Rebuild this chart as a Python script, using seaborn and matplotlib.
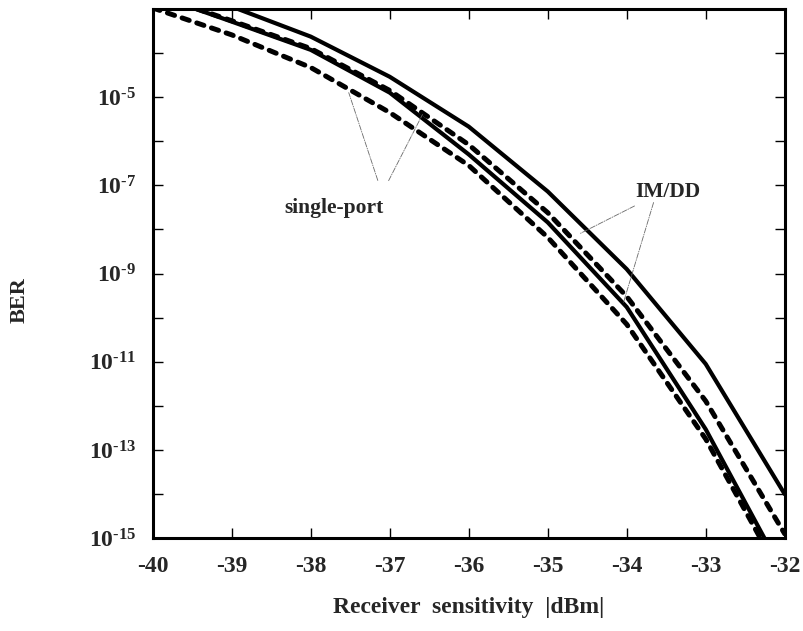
import numpy as np
import pandas as pd
import matplotlib
matplotlib.use("Agg")
import matplotlib.pyplot as plt
import seaborn as sns

# receiver sensitivity [dBm]
power_dbm = [-40, -39, -38, -37, -36, -35, -34, -33, -32]

# log10(BER)
imdd_upper = [-2.60, -2.95, -3.63, -4.54, -5.67, -7.14, -8.90, -11.05, -14.00]
imdd_lower = [-2.66, -3.29, -3.93, -4.90, -6.30, -7.84, -9.76, -12.53, -15.85]
sport_upper = [-2.66, -3.27, -3.90, -4.85, -6.08, -7.62, -9.52, -11.89, -14.90]
sport_lower = [-2.98, -3.59, -4.33, -5.35, -6.55, -8.18, -10.15, -12.75, -16.00]

ytick_exp = [-4, -5, -6, -7, -8, -9, -10, -11, -12, -13, -14, -15]
xticks = [-40, -39, -38, -37, -36, -35, -34, -33, -32]

sns.set_style("ticks")
plt.rcParams["font.family"] = ["Liberation Serif", "DejaVu Serif"]
plt.rcParams["font.weight"] = "bold"
plt.rcParams["mathtext.fontset"] = "custom"
plt.rcParams["mathtext.rm"] = "Liberation Serif:bold"
plt.rcParams["mathtext.it"] = "Liberation Serif:bold"
plt.rcParams["mathtext.bf"] = "Liberation Serif:bold"
plt.rcParams["axes.unicode_minus"] = False

fig = plt.figure(figsize=(8.04, 6.31), dpi=100)
ax = fig.add_axes([0.19, 0.147, 0.786, 0.839])

curves = [
    (imdd_upper, "-"),
    (imdd_lower, "-"),
    (sport_upper, (0, (1.5, 1.6))),
    (sport_lower, (0, (1.5, 1.6))),
]
for exps, ls in curves:
    ber = 10.0 ** np.array(exps)
    if ls == "-":
        sns.lineplot(x=power_dbm, y=ber, ax=ax, color="black", lw=3.0,
                     linestyle=ls, solid_joinstyle="miter")
    else:
        sns.lineplot(x=power_dbm, y=ber, ax=ax, color="black", lw=3.6,
                     linestyle=ls, dash_capstyle="round")

ax.set_yscale("log")
ax.set_xlim(-40, -32)
ax.set_ylim(1e-15, 1e-3)

ax.set_xticks(xticks)
ax.set_xticklabels([str(v) for v in xticks], fontsize=17, fontweight="bold")
ax.set_yticks([10.0 ** e for e in ytick_exp])
ax.set_yticklabels([r"$10^{\text{%d}}$" % e if e % 2 else "" for e in ytick_exp],
                   fontsize=17)
ax.yaxis.set_minor_locator(matplotlib.ticker.NullLocator())
ax.xaxis.set_minor_locator(matplotlib.ticker.NullLocator())
ax.tick_params(axis="both", direction="in", length=7, width=1.0,
               top=True, right=True, color="black")
ax.tick_params(axis="x", pad=13)
ax.tick_params(axis="y", pad=12)

for sp in ax.spines.values():
    sp.set_visible(True)
    sp.set_linewidth(2.2)
    sp.set_color("black")

ax.set_xlabel("Receiver  sensitivity  |dBm|", fontsize=17, fontweight="bold")
ax.xaxis.set_label_coords(0.50, -0.111)
fig.text(20 / 804, 1 - 300 / 631, "BER", fontsize=16, fontweight="bold",
         rotation=90, ha="center", va="center")

# annotation leaders
lead = dict(arrowstyle="-", color="dimgray", lw=0.6, linestyle="-.")
ax.text(-37.70, 10 ** -7.51, "single-port", fontsize=15.5, fontweight="bold",
        ha="center", va="center")
ax.annotate("", xy=(-37.53, 10 ** -4.84), xytext=(-37.14, 10 ** -6.95),
            arrowprops=lead)
ax.annotate("", xy=(-36.57, 10 ** -5.34), xytext=(-37.03, 10 ** -6.95),
            arrowprops=lead)

ax.text(-33.48, 10 ** -7.15, "IM/DD", fontsize=15.5, fontweight="bold",
        ha="center", va="center")
ax.annotate("", xy=(-34.62, 10 ** -8.12), xytext=(-33.87, 10 ** -7.44),
            arrowprops=lead)
ax.annotate("", xy=(-34.05, 10 ** -9.71), xytext=(-33.65, 10 ** -7.33),
            arrowprops=lead)

fig.savefig("out.png", dpi=100)
